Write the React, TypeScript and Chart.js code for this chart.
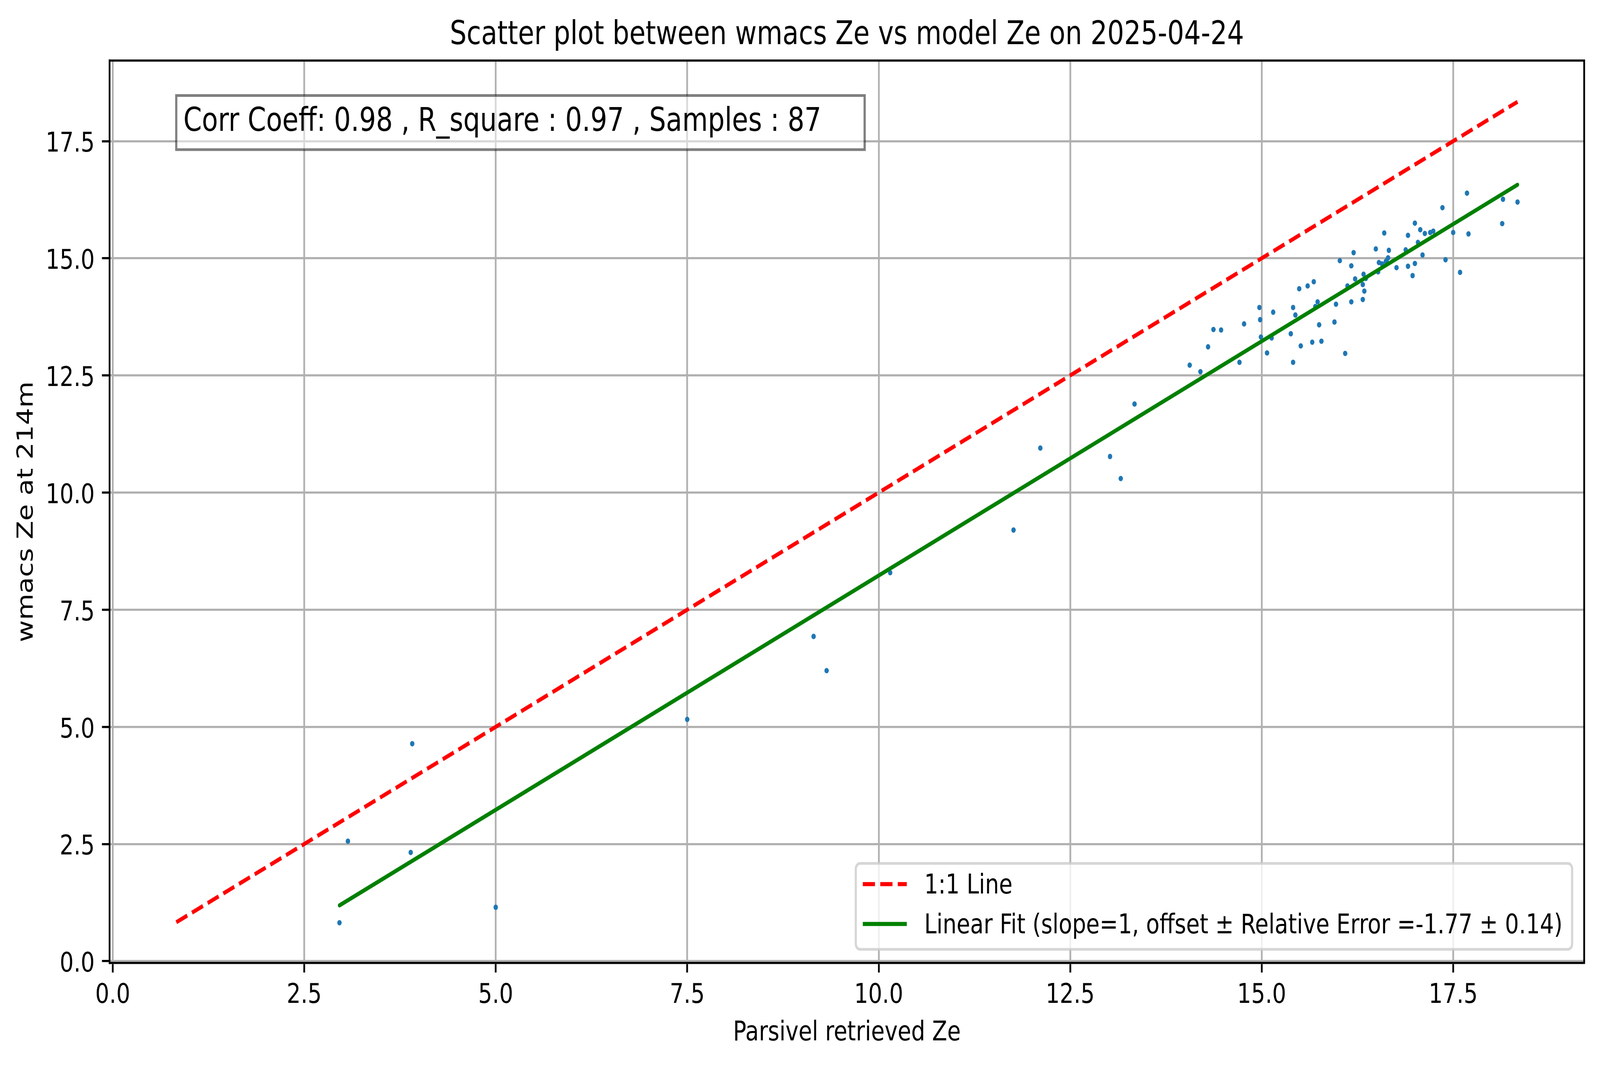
import { useEffect, useRef } from 'react';
import Chart from 'chart.js/auto';

// figure was saved at 500 dpi, so 1pt = 500/72 px
const PT = 500 / 72;
const WIDTH = 5048;
const HEIGHT = 2726;
const AREA = { left: 346, top: 155, right: 4998, bottom: 2465 };
const FONT = '"DejaVu Sans", "Liberation Sans", sans-serif';

// Parsivel retrieved Ze (x) and wmacs Ze at 214m (y)
const parsivelZe = [
  2.96, 3.07, 3.89, 3.91, 5.0, 7.5, 9.15, 9.32, 10.15, 11.76,
  12.11, 13.02, 13.16, 13.34, 14.06, 14.2, 14.3, 14.37, 14.47, 14.71,
  14.77, 14.97, 14.98, 14.99, 15.07, 15.13, 15.15, 15.38, 15.41, 15.41,
  15.44, 15.49, 15.51, 15.6, 15.66, 15.68, 15.7, 15.73, 15.75, 15.78,
  15.95, 15.97, 16.02, 16.09, 16.12, 16.17, 16.17, 16.2, 16.22, 16.32,
  16.32, 16.33, 16.34, 16.36, 16.49, 16.52, 16.53, 16.57, 16.6, 16.62,
  16.63, 16.65, 16.66, 16.76, 16.88, 16.91, 16.91, 16.97, 17.0, 17.0,
  17.04, 17.07, 17.1, 17.13, 17.2, 17.24, 17.36, 17.4, 17.5, 17.59,
  17.68, 17.7, 18.14, 18.15, 18.34,
];
const wmacsZe = [
  0.82, 2.56, 2.32, 4.64, 1.15, 5.16, 6.93, 6.2, 8.29, 9.2,
  10.95, 10.77, 10.3, 11.89, 12.72, 12.58, 13.11, 13.48, 13.47, 12.78,
  13.6, 13.95, 13.69, 13.32, 12.98, 13.3, 13.85, 13.39, 13.95, 12.78,
  13.79, 14.35, 13.13, 14.41, 13.21, 14.5, 13.97, 14.07, 13.58, 13.23,
  13.64, 14.02, 14.95, 12.97, 14.41, 14.07, 14.84, 15.12, 14.56, 14.44,
  14.12, 14.66, 14.3, 14.57, 15.2, 14.71, 14.91, 14.88, 15.54, 14.93,
  14.95, 15.01, 15.17, 14.8, 15.18, 15.49, 14.83, 14.63, 14.89, 15.75,
  15.34, 15.61, 15.07, 15.53, 15.55, 15.58, 16.08, 14.97, 15.55, 14.7,
  16.39, 15.52, 15.74, 16.26, 16.2,
];

const oneToOneX = [0.83, 18.34];
const oneToOneY = [0.83, 18.34];
const fitX = [2.96, 18.34];
const fitY = [1.19, 16.57];

const xTicks = [0, 2.5, 5, 7.5, 10, 12.5, 15, 17.5];
const yTicks = [0, 2.5, 5, 7.5, 10, 12.5, 15, 17.5];
const xRange = [-0.04, 19.21];
const yRange = [-0.04, 19.22];

const chartTitle = 'Scatter plot between wmacs Ze vs model Ze on 2025-04-24';
const statsText = 'Corr Coeff: 0.98 , R_square : 0.97 , Samples : 87';
const xLabel = 'Parsivel retrieved Ze';
const yLabel = 'wmacs Ze at 214m';
const oneToOneLabel = '1:1 Line';
const fitLabel = 'Linear Fit (slope=1, offset \u00b1 Relative Error =-1.77 \u00b1 0.14)';

const RED = '#ff0000';
const GREEN = '#008000';
const BLUE = '#1f77b4';
const DASH = [3.7 * 1.5 * PT, 1.6 * 1.5 * PT];

// title, text box, legend and the two missing spines
const decorPlugin = {
  id: 'decor',
  afterDraw(chart: Chart) {
    const ctx = chart.ctx;
    const { left, top, right, bottom } = chart.chartArea;
    ctx.save();

    // top / right spines
    ctx.strokeStyle = '#000';
    ctx.lineWidth = 0.8 * PT;
    ctx.beginPath();
    ctx.moveTo(left, top);
    ctx.lineTo(right, top);
    ctx.lineTo(right, bottom);
    ctx.stroke();

    // title
    ctx.fillStyle = '#000';
    ctx.font = `${12 * PT}px ${FONT}`;
    ctx.textAlign = 'center';
    ctx.textBaseline = 'alphabetic';
    ctx.fillText(chartTitle, (left + right) / 2, top - 42);

    // stats box
    ctx.fillStyle = 'rgba(255,255,255,0.5)';
    ctx.fillRect(556, 244.5, 2172, 138.5);
    ctx.strokeStyle = 'rgba(0,0,0,0.5)';
    ctx.lineWidth = 1 * PT;
    ctx.strokeRect(556, 244.5, 2172, 138.5);
    ctx.fillStyle = '#000';
    ctx.font = `${12 * PT}px ${FONT}`;
    ctx.textAlign = 'left';
    ctx.fillText(statsText, left + 0.05 * (right - left), 335);

    // legend
    const lx = 2700, ly = 2210, lw = 4960 - 2700, lh = 2430 - 2210;
    ctx.beginPath();
    ctx.roundRect(lx, ly, lw, lh, 0.2 * 10 * PT);
    ctx.fillStyle = 'rgba(255,255,255,0.8)';
    ctx.fill();
    ctx.strokeStyle = 'rgba(204,204,204,0.8)';
    ctx.lineWidth = 1 * PT;
    ctx.stroke();

    const rows = [
      { label: oneToOneLabel, color: RED, dash: DASH, y: 2263, base: 2287 },
      { label: fitLabel, color: GREEN, dash: [], y: 2365, base: 2389 },
    ];
    rows.forEach((r) => {
      ctx.beginPath();
      ctx.setLineDash(r.dash);
      ctx.strokeStyle = r.color;
      ctx.lineWidth = 1.5 * PT;
      ctx.lineCap = 'butt';
      ctx.moveTo(2722, r.y);
      ctx.lineTo(2861, r.y);
      ctx.stroke();
      ctx.setLineDash([]);
      ctx.fillStyle = '#000';
      ctx.font = `${10 * PT}px ${FONT}`;
      ctx.fillText(r.label, 2916, r.base);
    });

    ctx.restore();
  },
};

const tickFont = { family: FONT, size: 10 * PT };

const ScatterChart = () => {
  const chartRef = useRef<HTMLCanvasElement>(null);
  const chartInstance = useRef<Chart | null>(null);

  // the page is not always 5048x2726: stretch the figure over the whole window
  const vw = window.innerWidth;
  const vh = window.innerHeight;
  const kx = vw / WIDTH;
  const ky = vh / HEIGHT;

  useEffect(() => {
    document.body.style.margin = '0';
    document.body.style.overflow = 'hidden';
    if (!chartRef.current) return;
    if (chartInstance.current) chartInstance.current.destroy();

    const points = parsivelZe.map((x, i) => ({ x, y: wmacsZe[i] }));

    chartInstance.current = new Chart(chartRef.current, {
      type: 'scatter',
      data: {
        datasets: [
          {
            label: fitLabel,
            data: fitX.map((x, i) => ({ x, y: fitY[i] })),
            showLine: true,
            borderColor: GREEN,
            borderWidth: 1.5 * PT,
            borderCapStyle: 'round',
            pointRadius: 0,
            order: 1,
          },
          {
            label: oneToOneLabel,
            data: oneToOneX.map((x, i) => ({ x, y: oneToOneY[i] })),
            showLine: true,
            borderColor: RED,
            borderWidth: 1.5 * PT,
            borderDash: DASH,
            pointRadius: 0,
            order: 2,
          },
          {
            label: 'data',
            data: points,
            backgroundColor: BLUE,
            borderWidth: 0,
            pointRadius: 1 * PT,
            order: 3,
          },
        ],
      },
      options: {
        animation: false,
        responsive: false,
        devicePixelRatio: 1,
        events: [],
        layout: {
          padding: { left: 0, top: AREA.top, right: WIDTH - AREA.right, bottom: 0 },
        },
        plugins: {
          legend: { display: false },
          title: { display: false },
          tooltip: { enabled: false },
        },
        scales: {
          x: {
            type: 'linear',
            min: xRange[0],
            max: xRange[1],
            afterFit: (s: any) => {
              s.height = HEIGHT - AREA.bottom;
            },
            afterBuildTicks: (s: any) => {
              s.ticks = xTicks.map((value) => ({ value }));
            },
            ticks: {
              font: tickFont,
              color: '#000',
              padding: 18,
              autoSkip: false,
              maxRotation: 0,
              callback: (v: any) => Number(v).toFixed(1),
            },
            grid: {
              color: '#b0b0b0',
              lineWidth: 0.8 * PT,
              tickColor: '#000',
              tickWidth: 0.8 * PT,
              tickLength: 3.5 * PT,
            },
            border: { display: true, color: '#000', width: 0.8 * PT },
            title: {
              display: true,
              text: xLabel,
              color: '#000',
              font: tickFont,
              padding: { top: 0, bottom: 39 },
            },
          },
          y: {
            type: 'linear',
            min: yRange[0],
            max: yRange[1],
            afterFit: (s: any) => {
              s.width = AREA.left;
            },
            afterBuildTicks: (s: any) => {
              s.ticks = yTicks.map((value) => ({ value }));
            },
            ticks: {
              font: tickFont,
              color: '#000',
              padding: 23,
              labelOffset: 9,
              autoSkip: false,
              callback: (v: any) => Number(v).toFixed(1),
            },
            grid: {
              color: '#b0b0b0',
              lineWidth: 0.8 * PT,
              tickColor: '#000',
              tickWidth: 0.8 * PT,
              tickLength: 3.5 * PT,
            },
            border: { display: true, color: '#000', width: 0.8 * PT },
            title: {
              display: true,
              text: yLabel,
              color: '#000',
              font: tickFont,
              padding: { top: 43, bottom: 0 },
            },
          },
        },
      },
      plugins: [decorPlugin],
    });

    return () => {
      if (chartInstance.current) {
        chartInstance.current.destroy();
        chartInstance.current = null;
      }
    };
  }, []);

  return (
    <div style={{ width: vw, height: vh, overflow: 'hidden', background: '#fff' }}>
      <canvas
        ref={chartRef}
        width={WIDTH}
        height={HEIGHT}
        style={{ display: 'block', transform: `scale(${kx}, ${ky})`, transformOrigin: '0 0' }}
      ></canvas>
    </div>
  );
};

export default function App() {
  return <ScatterChart />;
}
